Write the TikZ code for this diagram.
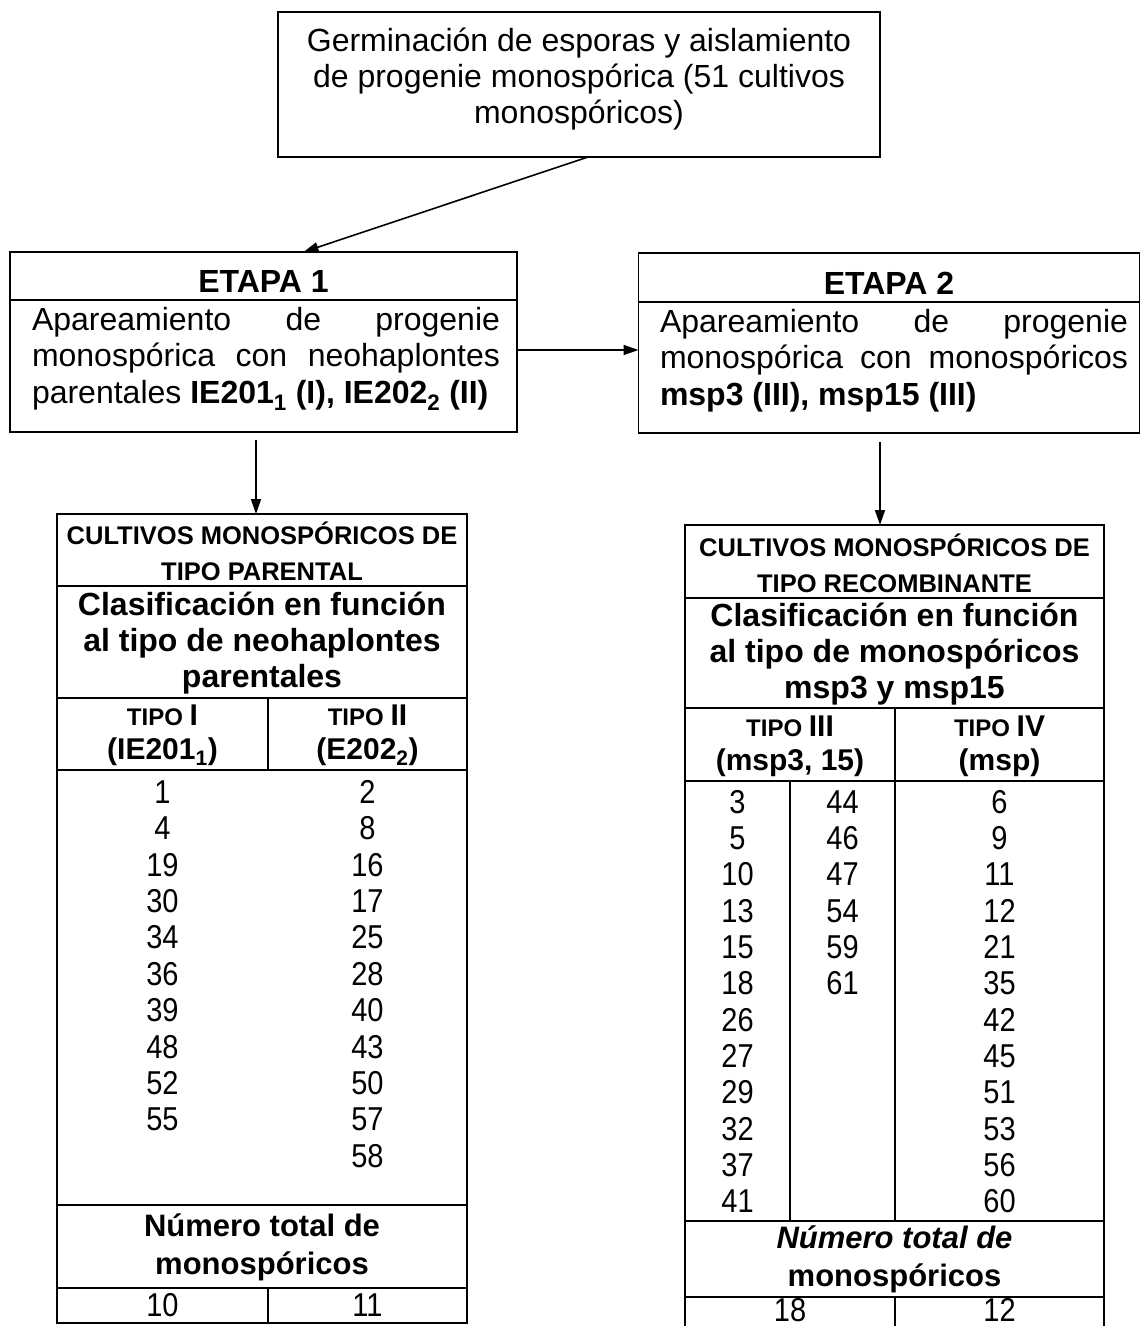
\documentclass[tikz,border=0pt]{standalone}
\usepackage{graphicx}
\usepackage{fontspec}
\setmainfont{Liberation Sans}
\usetikzlibrary{arrows.meta,calc}

\newcommand{\fsz}[2]{\fontsize{#1}{#2}\selectfont}
% slightly tall digits for the table entries
\newcommand{\tallnum}[1]{\scalebox{1}[1.14]{#1}}

\begin{document}
\begin{tikzpicture}[x=1pt,y=-1pt,
  every node/.style={inner sep=0pt,outer sep=0pt},
  box/.style={draw,line width=1.6pt,rectangle},
  rule/.style={line width=1.4pt},
  link/.style={line width=1.6pt,-{Triangle[length=15pt,width=10pt]}},
  plain/.style={font=\fsz{32}{36}},
  title/.style={font=\fsz{32}{36}\bfseries},
  caps/.style={font=\fsz{25.5}{36}\bfseries,align=center},
  head/.style={font=\fsz{32}{36}\bfseries,align=center},
  tipo/.style={font=\fsz{30}{34}\bfseries,align=center},
  num/.style={font=\fsz{29}{32}},
  body/.style={font=\fsz{32}{36.5},text width=468pt,align=justify,anchor=north west}
]
\useasboundingbox (0,0) rectangle (1141,1326);

% --- source box ---
\node[box,minimum width=602pt,minimum height=145pt] (src) at (579,84.5) {};
\node[plain,align=center] (srct) at (579,79)
  {Germinación de esporas y aislamiento\\de progenie monospórica (51 cultivos\\monospóricos)};

% --- stage 1 ---
\node[box,minimum width=507pt,minimum height=180pt] (e1) at (263.5,342) {};
\draw[rule] (e1.west |- 0,300) -- (e1.east |- 0,300);
\node[title] (e1h) at (263.5,281) {ETAPA 1};
\node[body] (e1b) at (32,307)
  {Apareamiento de progenie\linebreak monospórica con neohaplontes\linebreak parentales \textbf{IE201\textsubscript{1} (I), IE202\textsubscript{2} (II)}};

% --- stage 2 ---
\node[box,minimum width=501pt,minimum height=180pt] (e2) at (889,343) {};
\draw[rule] (e2.west |- 0,302) -- (e2.east |- 0,302);
\node[title] (e2h) at (889,283) {ETAPA 2};
\node[body] (e2b) at (660,309)
  {Apareamiento de progenie\linebreak monospórica con monospóricos\linebreak \textbf{msp3 (III), msp15 (III)}};

% --- connectors ---
\coordinate (a0) at ($(src.south)+(9,0)$);
\coordinate (a1) at ($(e1.north)+(40,0)$);
\draw[link] (a0) -- (a1);
\draw[link] ($(e1.east)+(0,8)$) -- ($(e2.west)+(0,7)$);

% --- parental table ---
\node[box,minimum width=410pt,minimum height=809pt] (t1) at (262,918.5) {};
\foreach \yy in {586,698,770,1205,1288}
  \draw[rule] (t1.west |- 0,\yy) -- (t1.east |- 0,\yy);
\draw[rule] (268,698) -- (268,770);
\draw[rule] (268,1288) -- (268,1323);
\draw[link] ($(e1.south)+(-7.5,8)$) -- (t1.north -| 256,0);

\node[caps] (t1a) at (262,551) {CULTIVOS MONOSPÓRICOS DE\\TIPO PARENTAL};
\node[head] (t1b) at (262,643) {Clasificación en función\\al tipo de neohaplontes\\parentales};
\node[tipo] (t1c) at (162.5,735) {{\fsz{24}{34}TIPO }I\\(IE201\textsubscript{1})};
\node[tipo] (t1d) at (367.5,735) {{\fsz{24}{34}TIPO }II\\(E202\textsubscript{2})};
\foreach \v [count=\i from 0] in {1,4,19,30,34,36,39,48,52,55}
  \node[num] (pa\i) at (162.5,792+36.4*\i) {\tallnum{\v}};
\foreach \v [count=\i from 0] in {2,8,16,17,25,28,40,43,50,57,58}
  \node[num] (pb\i) at (367.5,792+36.4*\i) {\tallnum{\v}};
\node[head,font=\fsz{31}{38}\bfseries] (t1e) at (262,1247) {Número total de\\monospóricos};
\node[num] (t1f) at (162.5,1305) {\tallnum{10}};
\node[num] (t1g) at (367.5,1305) {\tallnum{11}};

% --- recombinant table ---
\draw[line width=1.6pt] (685,1340) -- (685,525) -- (1104,525) -- (1104,1340);
\coordinate (t2n) at (894.5,525);
\foreach \yy in {598,708,781,1221,1297}
  \draw[rule] (685,\yy) -- (1104,\yy);
\draw[rule] (895,708) -- (895,1221);
\draw[rule] (790,781) -- (790,1221);
\draw[rule] (895,1297) -- (895,1340);
\draw[link] ($(e2.south)+(-9,9)$) -- (t2n -| 880,0);

\node[caps] (t2a) at (894.5,563) {CULTIVOS MONOSPÓRICOS DE\\TIPO RECOMBINANTE};
\node[head] (t2b) at (894.5,654) {Clasificación en función\\al tipo de monospóricos\\msp3 y msp15};
\node[tipo] (t2c) at (790,746) {{\fsz{24}{34}TIPO }III\\(msp3, 15)};
\node[tipo] (t2d) at (999.5,746) {{\fsz{24}{34}TIPO }IV\\(msp)};
\foreach \v [count=\i from 0] in {3,5,10,13,15,18,26,27,29,32,37,41}
  \node[num] (ra\i) at (737.5,802+36.3*\i) {\tallnum{\v}};
\foreach \v [count=\i from 0] in {44,46,47,54,59,61}
  \node[num] (rb\i) at (842.5,802+36.3*\i) {\tallnum{\v}};
\foreach \v [count=\i from 0] in {6,9,11,12,21,35,42,45,51,53,56,60}
  \node[num] (rc\i) at (999.5,802+36.3*\i) {\tallnum{\v}};
\node[head,font=\fsz{31}{38}\bfseries] (t2e) at (894.5,1259) {\textit{Número total de}\\monospóricos};
\node[num] (t2f) at (790,1310) {\tallnum{18}};
\node[num] (t2g) at (999.5,1310) {\tallnum{12}};
\end{tikzpicture}
\end{document}
